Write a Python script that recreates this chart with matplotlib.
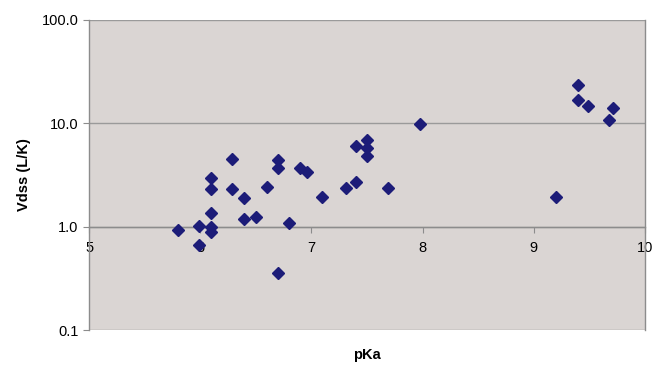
import matplotlib.pyplot as plt
from matplotlib.ticker import FixedLocator, FormatStrFormatter, NullLocator

plt.rcParams['font.family'] = ['Liberation Sans', 'DejaVu Sans']

# pKa vs volume of distribution
pka = [5.80, 5.99, 5.99, 6.10, 6.10, 6.10, 6.10, 6.10, 6.29, 6.29,
       6.39, 6.39, 6.50, 6.60, 6.70, 6.70, 6.70, 6.80, 6.90, 6.96,
       7.10, 7.31, 7.40, 7.40, 7.50, 7.50, 7.50, 7.69, 7.98,
       9.20, 9.40, 9.40, 9.49, 9.68, 9.71]
vdss = [0.93, 1.02, 0.66, 1.00, 0.89, 1.36, 2.34, 2.97, 4.47, 2.34,
        1.88, 1.20, 1.24, 2.43, 4.37, 3.68, 0.355, 1.09, 3.71, 3.37,
        1.94, 2.35, 2.69, 6.0, 6.84, 5.8, 4.78, 2.35, 9.8,
        1.94, 23.4, 16.7, 14.7, 10.7, 14.2]

x_ticks = [5, 6, 7, 8, 9, 10]
y_ticks = [0.1, 1.0, 10.0, 100.0]

fig = plt.figure(figsize=(6.56, 3.70), dpi=100)
ax = fig.add_axes([0.1357, 0.108, 0.983 - 0.1357, 0.946 - 0.108])
ax.set_facecolor('#dad5d3')

ax.plot(pka, vdss, linestyle='none', marker='D', ms=6.5,
        color='#1c1c78', mec='#1c1c78', zorder=3)

ax.set_yscale('log')
ax.set_ylim(0.1, 100)
ax.set_xlim(5, 10)
ax.yaxis.set_major_locator(FixedLocator(y_ticks))
ax.yaxis.set_major_formatter(FormatStrFormatter('%.1f'))
ax.yaxis.set_minor_locator(NullLocator())
ax.set_xticks(x_ticks)

ax.grid(True, axis='y', color='#9a9a9a', lw=1.0)
ax.set_axisbelow(True)

ax.spines['bottom'].set_position(('data', 1.0))
ax.spines['top'].set_visible(False)
for s in ['bottom', 'left', 'right']:
    ax.spines[s].set_color('#8c8c8c')
    ax.spines[s].set_linewidth(1.0)

ax.tick_params(axis='both', colors='#8c8c8c', labelcolor='black',
               labelsize=10.5, length=4, direction='out')
ax.tick_params(axis='x', pad=6)

ax.set_ylabel('Vdss (L/K)', fontsize=10.5, fontweight='bold', labelpad=8)
fig.text(0.56, 0.022, 'pKa', ha='center', va='bottom',
         fontsize=10.5, fontweight='bold')

fig.savefig('out.png', dpi=100)
